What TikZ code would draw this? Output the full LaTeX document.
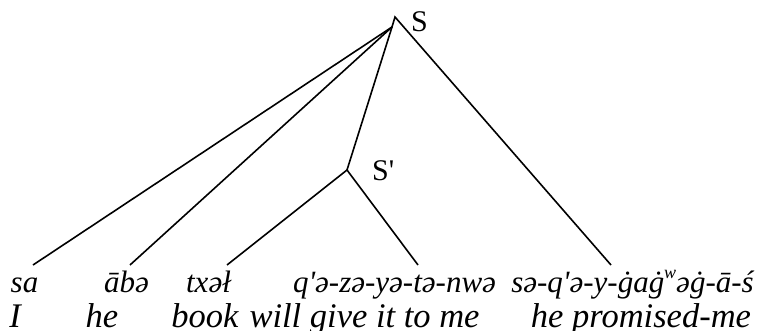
\documentclass[tikz,border=0pt]{standalone}
\usepackage{fontspec}
\setmainfont{Liberation Serif}
\begin{document}
\begin{tikzpicture}[x=1pt,y=-1pt,
  branch/.style={line width=1.6pt},
  word/.style={anchor=base,inner sep=0pt,font=\fontsize{31}{36}\selectfont\itshape},
  gloss/.style={anchor=base,inner sep=0pt,font=\fontsize{34.5}{40}\selectfont\itshape},
  cat/.style={anchor=base west,inner sep=0pt,font=\fontsize{30}{36}\selectfont}]
\useasboundingbox (0,0) rectangle (762,331);
\newcommand{\apos}{\textquotesingle}
% tree points
\coordinate (A) at (395,17);
\coordinate (J) at (392,27);
\coordinate (Sp) at (347,170);
\coordinate (l1) at (33,265);
\coordinate (l2) at (130,265);
\coordinate (l3) at (227,265);
\coordinate (l4) at (418,265);
\coordinate (l5) at (611,265);
% labels
\node[cat] (S) at (411,32) {S};
\node[cat] (Sprime) at (372,181) {S\apos};
% words line 1
\node[word] (w1) at (24.5,292) {sa};
\node[word] (w2) at (126.5,292) {ābə};
\node[word] (w3) at (208.5,292) {txəł};
\node[word] (w4) at (394.5,292) {q\apos ə-zə-yə-tə-nwə};
\node[word] (w5) at (632.5,292) {sə-q\apos ə-y-ġaġ\raisebox{0.45em}{\fontsize{18}{18}\selectfont w}əġ-ā-ś};
% glosses line 2
\node[gloss] (g1) at (15,327) {I};
\node[gloss] (g2) at (102,327) {he};
\node[gloss] (g3) at (205,327) {book};
\node[gloss] (g4) at (364.5,327) {will give it to me};
\node[gloss] (g5) at (641,327) {he promised-me};
% branches
\draw[branch] (J) -- (A) -- (l5);
\draw[branch] (J) -- (l1);
\draw[branch] (J) -- (l2);
\draw[branch] (J) -- (Sp);
\draw[branch] (Sp) -- (l3);
\draw[branch] (Sp) -- (l4);
\end{tikzpicture}
\end{document}
